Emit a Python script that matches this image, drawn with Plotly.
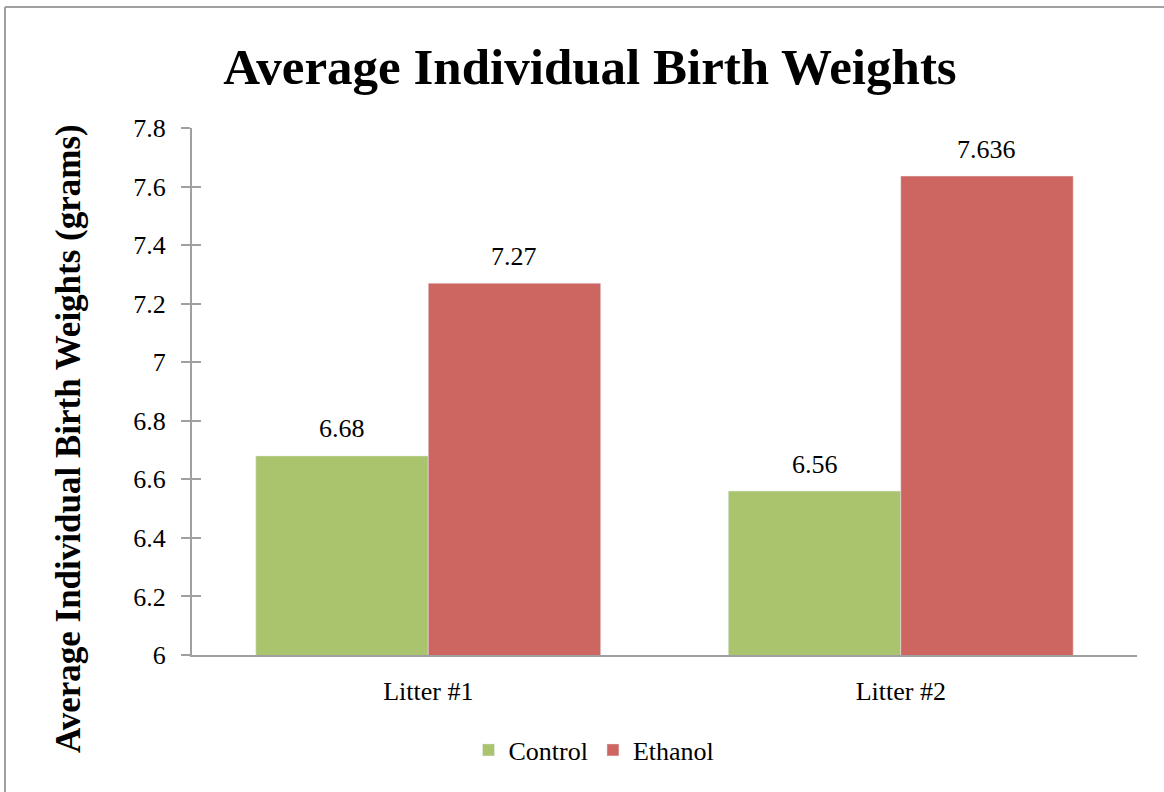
import plotly.graph_objects as go

categories = ["Litter #1", "Litter #2"]
control = [6.68, 6.56]
ethanol = [7.27, 7.636]
control_labels = ["6.68", "6.56"]
ethanol_labels = ["7.27", "7.636"]
y_ticks = [6, 6.2, 6.4, 6.6, 6.8, 7, 7.2, 7.4, 7.6, 7.8]
y_tick_text = ["6", "6.2", "6.4", "6.6", "6.8", "7", "7.2", "7.4", "7.6", "7.8"]

FONT = "Liberation Serif"
W, H = 1164, 792
L, R, T, B = 192, 27, 128, 137
pw, ph = W - L - R, H - T - B
TS = 26
BARGAP = 0.27

fig = go.Figure()
fig.add_trace(go.Bar(name="Control", x=categories, y=control,
                     marker_color="#AAC46D"))
fig.add_trace(go.Bar(name="Ethanol", x=categories, y=ethanol,
                     marker_color="#CD6660"))
# invisible trace for the inside-tick overlay axis
fig.add_trace(go.Scatter(x=categories, y=control, yaxis="y2", mode="markers",
                         marker=dict(opacity=0), showlegend=False, hoverinfo="skip"))

# data labels above bars, placed via the axes
half_bar = pw / len(categories) * (1 - BARGAP) / 4
for cat, v, t in zip(categories, control, control_labels):
    fig.add_annotation(x=cat, y=v, text=t, showarrow=False, xshift=-half_bar, yshift=27,
                       yanchor="middle", font=dict(family=FONT, size=TS, color="#000"))
for cat, v, t in zip(categories, ethanol, ethanol_labels):
    fig.add_annotation(x=cat, y=v, text=t, showarrow=False, xshift=half_bar, yshift=27,
                       yanchor="middle", font=dict(family=FONT, size=TS, color="#000"))

def px_x(p):
    return (p - L) / pw

def px_y(p):
    return 1 - (p - T) / ph

# y-axis title (centred on the whole chart height, as in the original)
fig.add_annotation(xref="paper", yref="paper", x=px_x(68), y=px_y(439),
                   text="<b>Average Individual Birth Weights (grams)</b>", textangle=-90,
                   showarrow=False, xanchor="center", yanchor="middle",
                   font=dict(family=FONT, size=35, color="#000"))

fig.update_layout(
    width=W, height=H,
    margin=dict(l=L, r=R, t=T, b=B),
    paper_bgcolor="white", plot_bgcolor="white",
    barmode="group", bargap=BARGAP, bargroupgap=0,
    title=dict(text="<b>Average Individual Birth Weights</b>", x=590 / W,
               xanchor="center", y=1 - 66 / H, yanchor="middle",
               font=dict(family=FONT, size=51, color="#000")),
    xaxis=dict(showline=True, linecolor="#A0A0A0", linewidth=2, ticks="",
               ticklabelstandoff=12,
               tickfont=dict(family=FONT, size=TS, color="#000"), showgrid=False),
    yaxis=dict(range=[6, 7.8], tickvals=y_ticks, ticktext=y_tick_text,
               showline=True, linecolor="#A0A0A0", linewidth=2,
               ticks="outside", ticklen=9, tickwidth=2, tickcolor="#A0A0A0",
               ticklabelstandoff=10,
               tickfont=dict(family=FONT, size=TS, color="#000"), showgrid=False, zeroline=False),
    yaxis2=dict(range=[6, 7.8], tickvals=y_ticks, overlaying="y", side="left",
                ticks="inside", ticklen=9, tickwidth=2, tickcolor="#A0A0A0",
                showticklabels=False, showgrid=False, zeroline=False, showline=False),
    legend=dict(orientation="h", x=px_x(594), xanchor="center", y=px_y(750), yanchor="middle",
                font=dict(family=FONT, size=TS, color="#000"), itemwidth=30,
                traceorder="normal"),
    showlegend=True,
)

# outer chart border (top and left visible)
fig.add_shape(type="line", xref="paper", yref="paper",
              x0=px_x(5), x1=px_x(1200), y0=px_y(7), y1=px_y(7),
              line=dict(color="#A0A0A0", width=2))
fig.add_shape(type="line", xref="paper", yref="paper",
              x0=px_x(5), x1=px_x(5), y0=px_y(7), y1=px_y(820),
              line=dict(color="#A0A0A0", width=2))

fig.write_html("out.html", config={"displayModeBar": False},
               post_script="document.body.style.margin='0px';")
